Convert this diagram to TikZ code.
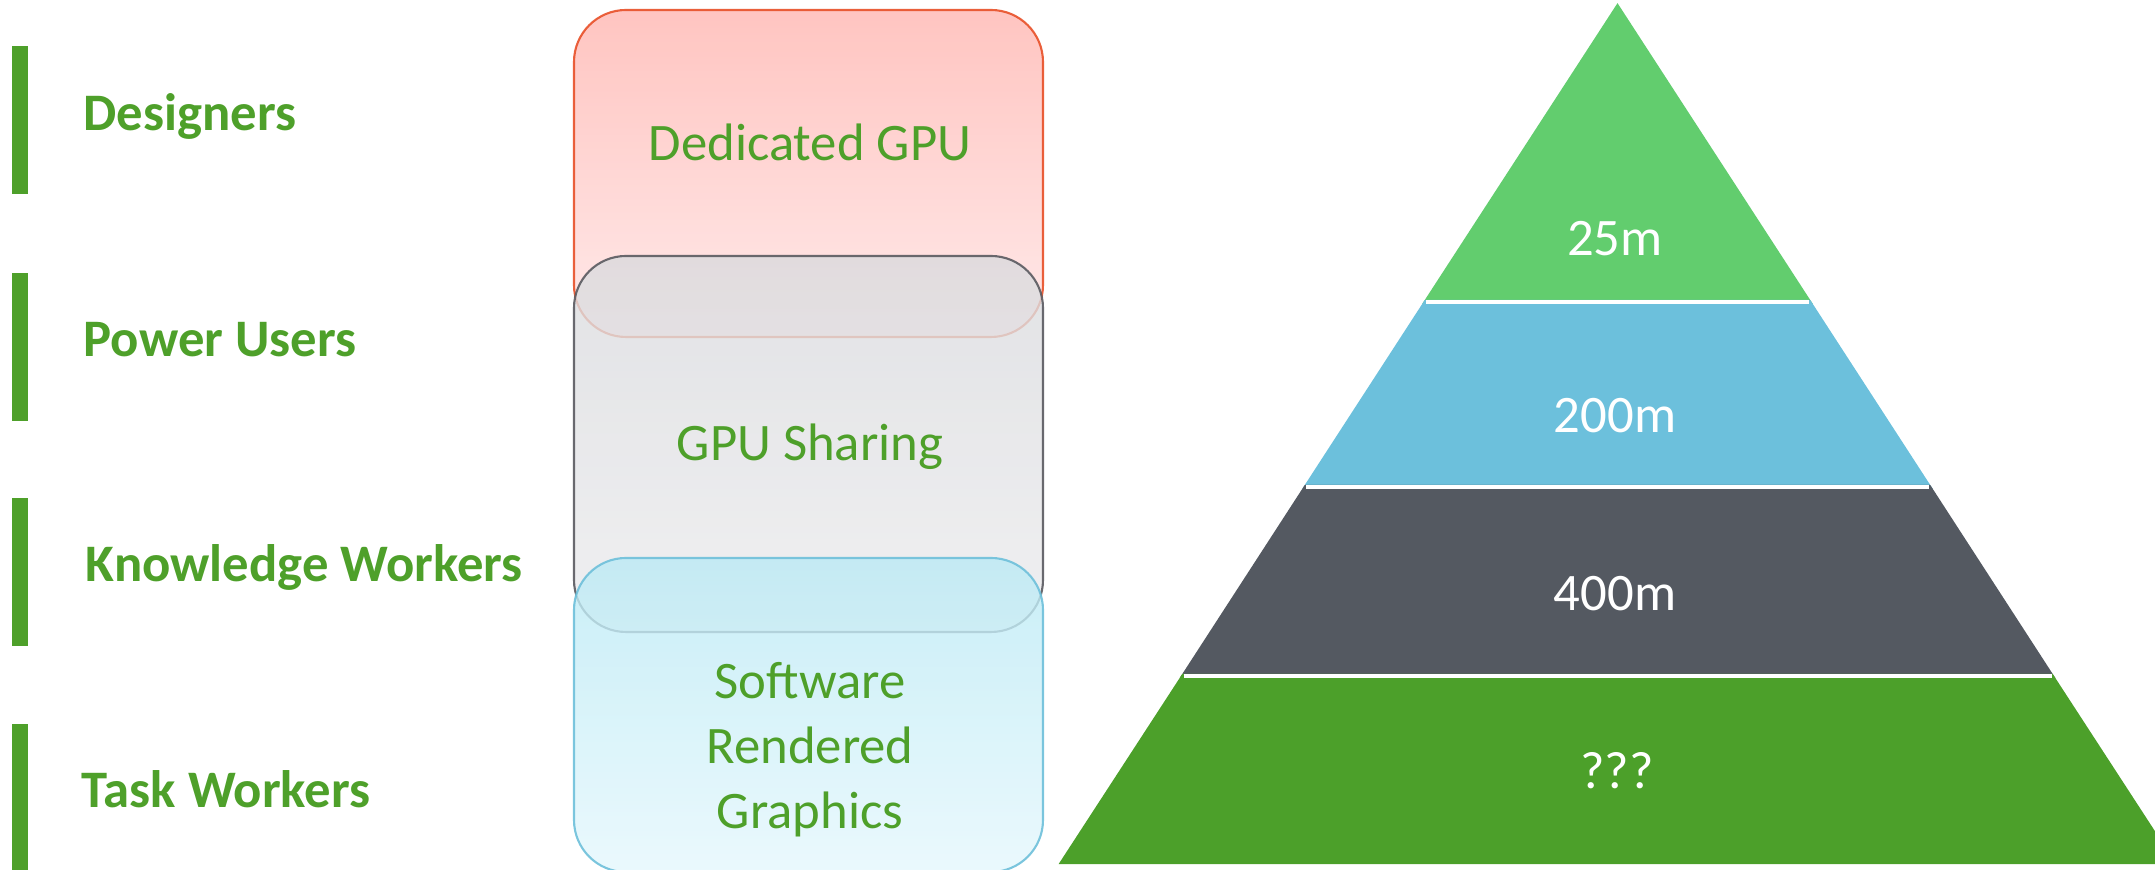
\documentclass[tikz,border=0pt]{standalone}
\usepackage{fontspec}
\setmainfont{Carlito}
\usepackage{xcolor}
\usepackage{tikz}
\usetikzlibrary{positioning, calc}
\definecolor{tiergreen}{RGB}{78,160,42}
\definecolor{redline}{RGB}{232,80,40}
\definecolor{greyline}{RGB}{90,90,96}
\definecolor{blueline}{RGB}{110,192,218}
\definecolor{pyrtop}{RGB}{98,205,110}
\definecolor{pyrblue}{RGB}{108,192,220}
\definecolor{pyrgrey}{RGB}{84,89,97}
\definecolor{pyrgreen}{RGB}{76,160,42}
\tikzset{
  bar/.style={fill=tiergreen, draw=none, minimum width=0.16cm, minimum height=1.48cm, inner sep=0pt},
  tier/.style={anchor=base west, text=tiergreen, inner sep=0pt,
    font=\bfseries\fontsize{15}{18}\selectfont},
  layer/.style={rounded corners=0.52cm, minimum width=4.69cm, inner sep=0pt,
    line width=0.6pt, fill opacity=0.8, draw opacity=0.9},
  dedicated/.style={layer, draw=redline, top color={rgb,255:red,255;green,182;blue,177}, bottom color={rgb,255:red,255;green,228;blue,228}},
  sharing/.style={layer, draw=greyline, top color={rgb,255:red,218;green,219;blue,222}, bottom color={rgb,255:red,236;green,236;blue,238}},
  software/.style={layer, draw=blueline, top color={rgb,255:red,187;green,234;blue,245}, bottom color={rgb,255:red,229;green,247;blue,252}},
  layertext/.style={text=tiergreen, align=center, inner sep=0pt, font=\fontsize{15}{18.5}\selectfont},
  band/.style={draw=white, line width=1.2pt},
  count/.style={anchor=base, text=white, inner sep=0pt, font=\fontsize{15}{18}\selectfont},
}

\begin{document}
\begin{tikzpicture}
  \useasboundingbox (0,0) rectangle (21.55,8.7);
  \clip (0,0) rectangle (21.55,8.7);

  \node[bar] (bar1) at (0.2,7.50) {};
  \node[bar] (bar2) at (0.2,5.23) {};
  \node[bar] (bar3) at (0.2,2.98) {};
  \node[bar, minimum height=1.46cm] (bar4) at (0.2,0.73) {};
  \node[tier] (designers) at (0.83,7.395) {Designers};
  \node[tier] (power) at (0.83,5.13) {Power Users};
  \node[tier] (knowledge) at (0.85,2.88) {Knowledge Workers};
  \node[tier] (task) at (0.81,0.62) {Task Workers};

  \node[dedicated, minimum height=3.27cm] (dgpu) at (8.085,6.965) {};
  \node[sharing, minimum height=3.76cm] (share) at (8.085,4.26) {};
  \node[software, minimum height=3.14cm] (soft) at (8.085,1.55) {};
  \node[layertext, anchor=base] (dgputext) at (8.1,7.09) {Dedicated GPU};
  \node[layertext, anchor=base] (sharetext) at (8.1,4.09) {GPU Sharing};
  \node[layertext] (softtext) at (8.1,1.2) {Software\\Rendered\\Graphics};

  \fill[band, pyrtop] (16.175,8.63) -- (18.09,5.68) -- (14.26,5.68) -- cycle;
  \fill[band, pyrblue] (14.26,5.68) -- (18.09,5.68) -- (19.29,3.83) -- (13.06,3.83) -- cycle;
  \fill[band, pyrgrey] (13.06,3.83) -- (19.29,3.83) -- (20.515,1.94) -- (11.835,1.94) -- cycle;
  \fill[band, pyrgreen] (11.835,1.94) -- (20.515,1.94) -- (21.725,0.08) -- (10.625,0.08) -- cycle;
  \draw[band] (14.26,5.68) -- (18.09,5.68)
              (13.06,3.83) -- (19.29,3.83)
              (11.835,1.94) -- (20.515,1.94);
  \node[count] (c25) at (16.15,6.14) {25m};
  \node[count] (c200) at (16.15,4.37) {200m};
  \node[count] (c400) at (16.15,2.59) {400m};
  \node[count] (cunknown) at (16.17,0.81) {???};
\end{tikzpicture}
\end{document}
